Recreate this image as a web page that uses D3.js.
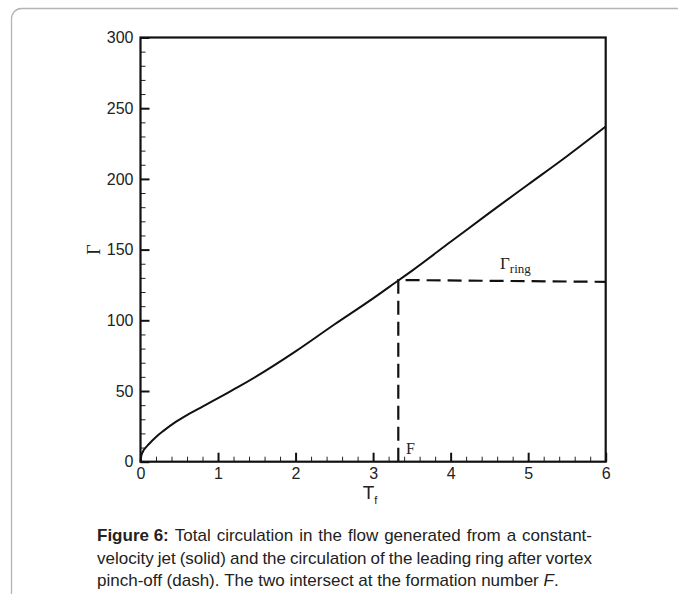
<!DOCTYPE html>
<html><head><meta charset="utf-8">
<script src="https://cdn.jsdelivr.net/npm/d3@7"></script>
<style>body{margin:0;background:#fff} svg{display:block}</style>
</head><body>
<svg id="c" width="678" height="594"></svg>
<script>
// ---- data ----
const tValues     = [0, 0.01, 0.03, 0.06, 0.1, 0.2, 0.3, 0.45, 0.6, 0.8, 1.0, 1.25, 1.5, 2.0, 2.5, 3.0, 3.32, 3.5, 4.0, 4.5, 5.0, 5.5, 6.0];
const gammaValues = [0, 4, 7, 9.5, 12, 17.5, 22, 28, 33, 39, 45, 52.5, 60.5, 78, 97, 115.5, 128, 135, 155.5, 176, 196, 216, 237];
const ringT       = [3.325, 3.325, 6];
const ringGamma   = [0, 128.5, 127.2];
const xTicks      = [0, 1, 2, 3, 4, 5, 6];
const yTicks      = [0, 50, 100, 150, 200, 250, 300];
const formationLabel = "F";
const captionBold = "Figure 6:";
const captionLines = [
  "Total circulation in the flow generated from a constant-",
  "velocity jet (solid) and the circulation of the leading ring after vortex",
  "pinch-off (dash). The two intersect at the formation number"
];

// ---- layout ----
const svg = d3.select("#c");
const x = d3.scaleLinear().domain([0, 6]).range([140.5, 605.7]);
const y = d3.scaleLinear().domain([0, 300]).range([461.7, 37.5]);

// frame
svg.append("rect").attr("x", 11.5).attr("y", 8.5).attr("width", 720).attr("height", 640)
  .attr("rx", 10).attr("fill", "none").attr("stroke", "#b4b4b4").attr("stroke-width", 1.3);

const sans = "'Liberation Sans', Arial, sans-serif";
const serif = "'Liberation Serif', 'Times New Roman', serif";

// minor ticks
const xMinor = d3.range(0, 6.001, 0.2).filter(v => Math.abs(v - Math.round(v)) > 1e-6);
const yMinor = d3.range(0, 300.1, 10).filter(v => v % 50 !== 0);

const gxm = svg.append("g").attr("transform", `translate(0,${y(0)})`)
  .call(d3.axisBottom(x).tickValues(xMinor).tickSize(-5).tickFormat(""));
const gym = svg.append("g").attr("transform", `translate(${x(0)},0)`)
  .call(d3.axisLeft(y).tickValues(yMinor).tickSize(-5).tickFormat(""));
[gxm, gym].forEach(g => { g.select(".domain").remove(); g.selectAll("line").attr("stroke", "#222").attr("stroke-width", 1); });

const gx = svg.append("g").attr("transform", `translate(0,${y(0)})`)
  .call(d3.axisBottom(x).tickValues(xTicks).tickSize(-9).tickPadding(6).tickFormat(d3.format("d")));
const gy = svg.append("g").attr("transform", `translate(${x(0)},0)`)
  .call(d3.axisLeft(y).tickValues(yTicks).tickSize(-9).tickPadding(7).tickFormat(d3.format("d")));
[gx, gy].forEach(g => {
  g.select(".domain").remove();
  g.selectAll("line").attr("stroke", "#111").attr("stroke-width", 2);
  g.selectAll("text").attr("font-family", sans).attr("font-size", 16).attr("fill", "#222");
});

// box
svg.append("rect").attr("x", x(0)).attr("y", y(300)).attr("width", x(6) - x(0)).attr("height", y(0) - y(300))
  .attr("fill", "none").attr("stroke", "#111").attr("stroke-width", 2.2);

// curves
const line = d3.line().x(d => x(d[0])).y(d => y(d[1])).curve(d3.curveMonotoneX);
svg.append("path").datum(tValues.map((t, i) => [t, gammaValues[i]]))
  .attr("d", line).attr("fill", "none").attr("stroke", "#111").attr("stroke-width", 2);
const lineL = d3.line().x(d => x(d[0])).y(d => y(d[1]));
svg.append("path").datum(ringT.map((t, i) => [t, ringGamma[i]]))
  .attr("d", lineL).attr("fill", "none").attr("stroke", "#111").attr("stroke-width", 2.2)
  .attr("stroke-dasharray", "14,7");

// labels
const tl = svg.append("text").attr("x", (x(0) + x(6)) / 2 - 3).attr("y", 499)
  .attr("font-family", sans).attr("font-size", 19).attr("fill", "#222").attr("text-anchor", "middle");
tl.append("tspan").text("T");
tl.append("tspan").attr("font-size", 11).attr("dy", 5).text("f");

svg.append("text").attr("transform", `translate(100,${(y(0) + y(300)) / 2}) rotate(-90)`)
  .attr("text-anchor", "middle").attr("font-family", serif).attr("font-size", 18).attr("fill", "#222").text("Γ");

const gr = svg.append("text").attr("x", 500).attr("y", 269).attr("font-family", serif).attr("font-size", 17).attr("fill", "#222");
gr.append("tspan").text("Γ");
gr.append("tspan").attr("font-size", 13).attr("dy", 4).text("ring");

svg.append("text").attr("x", 406).attr("y", 454).attr("font-family", serif).attr("font-size", 16).attr("fill", "#222").text(formationLabel);

// caption (justified)
const capX0 = 97, capX1 = 592, capY = [541, 563.5, 586];
captionLines.forEach((ln, li) => {
  const words = [];
  if (li === 0) words.push({ t: captionBold, bold: true });
  ln.split(" ").forEach(w => words.push({ t: w }));
  if (li === 2) words.push({ t: "F.", italicF: true });
  const g = svg.append("g");
  const nodes = words.map(w => {
    const tx = g.append("text").attr("y", capY[li]).attr("font-family", sans).attr("font-size", 17).attr("fill", "#222");
    if (w.bold) tx.attr("font-weight", "bold").text(w.t);
    else if (w.italicF) { tx.append("tspan").attr("font-style", "italic").text("F"); tx.append("tspan").text("."); }
    else tx.text(w.t);
    return tx;
  });
  const widths = nodes.map(n => n.node().getComputedTextLength());
  const total = d3.sum(widths);
  const space = li < 2 ? (capX1 - capX0 - total) / (nodes.length - 1) : 4.7;
  let cx = capX0;
  nodes.forEach((n, i) => { n.attr("x", cx); cx += widths[i] + space; });
});
</script>
</body></html>
